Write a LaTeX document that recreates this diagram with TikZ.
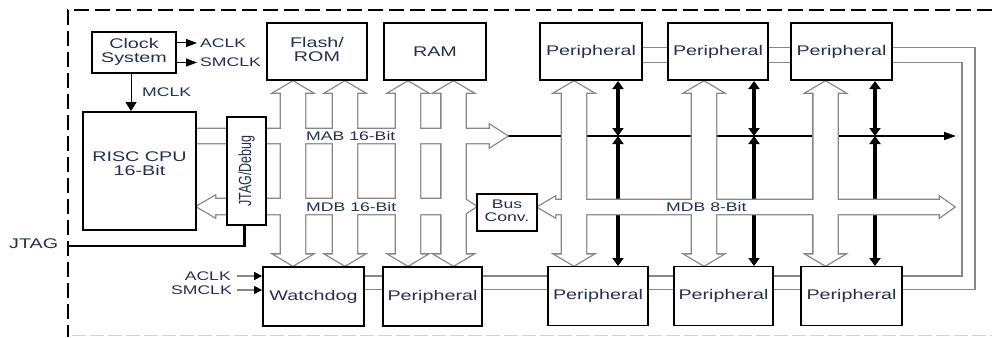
\documentclass[tikz,border=0pt]{standalone}
\usepackage{fontspec}
\setmainfont{Liberation Sans}
\usepackage{graphicx}
\usetikzlibrary{arrows.meta}
\definecolor{txt}{RGB}{38,48,80}
\definecolor{gl}{RGB}{135,135,135}
\newcommand{\st}[1]{\scalebox{1.41}[1]{#1}}
\newcommand{\stt}[3]{\scalebox{1.41}[1]{\begin{tabular}{@{}c@{}}#1\\[#3]#2\end{tabular}}}
\begin{document}
\begin{tikzpicture}[x=1pt,y=-1pt,
  box/.style={draw=black,line width=1.8pt,fill=white,inner sep=0pt,text=txt,font=\fontsize{14}{15}\selectfont},
  lab/.style={text=txt,inner sep=0pt,font=\fontsize{12.5}{14}\selectfont},
  gline/.style={draw=gl,line width=1.2pt},
  holo/.style={draw=gl,line width=2.6pt},
  holf/.style={fill=white},
  tk/.style={line width=3.2pt,arrows={Triangle[length=8pt,width=11pt]-Triangle[length=8pt,width=11pt]}},
  ]
\useasboundingbox (0,0) rectangle (992,337);
\fill[white] (0,0) rectangle (992,337);
% border
\draw[black,line width=2.2pt,dash pattern=on 15pt off 6pt] (992,10) -- (68,10) -- (68,337);
\draw[gray!35,line width=1.2pt,dash pattern=on 14pt off 4pt] (72,335.5) -- (992,335.5);

\coordinate (L1) at (0,47.5);
\coordinate (L2) at (0,62.5);
\coordinate (L3) at (0,276);
\coordinate (L4) at (0,289.5);

% MAB thin line
\coordinate (mabtip) at (507,136);
\coordinate (mabend) at (956,136);
\draw[line width=1.4pt,-{Triangle[length=12pt,width=8pt]}] (mabtip) -- (mabend);

% thick black double arrows
\coordinate (k1) at (618,136);
\coordinate (k2) at (754,136);
\coordinate (k3) at (875,136);
\foreach \k in {k1,k2,k3}{
  \draw[tk] (\k |- 0,81) -- (\k);
  \draw[tk] (\k) -- (\k |- 0,266);
}

% hollow buses: outlines
\foreach \c in {293,345,408,453.5,574,704,825.5}
  \draw[holo] (\c,81.5) -- ({\c+18.5},92.5) -- ({\c+12},92.5) -- ({\c+12},254.5) -- ({\c+18.5},254.5) -- (\c,265.5) -- ({\c-18.5},254.5) -- ({\c-12},254.5) -- ({\c-12},92.5) -- ({\c-18.5},92.5) -- cycle;
\draw[holo] (196,129) -- (490,129) -- (490,125) -- (507,136) -- (490,147) -- (490,143) -- (196,143) -- cycle;
\draw[holo] (197,206.5) -- (215,196) -- (215,199) -- (460,199) -- (460,196) -- (476,206.5) -- (460,217) -- (460,214) -- (215,214) -- (215,217) -- cycle;
\draw[holo] (538,207) -- (555,197) -- (555,200) -- (940,200) -- (940,197) -- (954,207) -- (940,217) -- (940,214) -- (555,214) -- (555,217) -- cycle;
% fills
\foreach \c in {293,345,408,453.5,574,704,825.5}
  \fill[holf] (\c,81.5) -- ({\c+18.5},92.5) -- ({\c+12},92.5) -- ({\c+12},254.5) -- ({\c+18.5},254.5) -- (\c,265.5) -- ({\c-18.5},254.5) -- ({\c-12},254.5) -- ({\c-12},92.5) -- ({\c-18.5},92.5) -- cycle;
\fill[holf] (196,129) -- (490,129) -- (490,125) -- (507,136) -- (490,147) -- (490,143) -- (196,143) -- cycle;
\fill[holf] (197,206.5) -- (215,196) -- (215,199) -- (460,199) -- (460,196) -- (476,206.5) -- (460,217) -- (460,214) -- (215,214) -- (215,217) -- cycle;
\fill[holf] (538,207) -- (555,197) -- (555,200) -- (940,200) -- (940,197) -- (954,207) -- (940,217) -- (940,214) -- (555,214) -- (555,217) -- cycle;

% bus labels
\node[lab,anchor=west] (mab) at (306,136) {\st{MAB 16-Bit}};
\node[lab,anchor=west] (mdb16) at (306,207) {\st{MDB 16-Bit}};
\node[lab,anchor=west] (mdb8) at (666,207) {\st{MDB 8-Bit}};

% boxes
\node[box,minimum width=84pt,minimum height=41pt] (clk) at (134,52.5) {\stt{Clock}{System}{-1pt}};
\node[box,minimum width=113pt,minimum height=118pt] (cpu) at (139.5,171) {};
\node[text=txt,inner sep=0pt,font=\fontsize{14}{15}\selectfont] (cputxt) at (139.5,165) {\stt{RISC CPU}{16-Bit}{-1pt}};
\node[box,minimum width=39pt,minimum height=108pt,font=\fontsize{12.5}{14}\selectfont] (jtag) at (246.5,171) {\st{\rotatebox{90}{JTAG/Debug}}};
\node[box,minimum width=100pt,minimum height=57pt] (flash) at (317,51.5) {\stt{Flash/}{ROM}{-1pt}};
\node[box,minimum width=102pt,minimum height=57pt] (ram) at (435,51.5) {\st{RAM}};
\node[box,minimum width=102pt,minimum height=57pt] (tp1) at (591,51.5) {\st{Peripheral}};
\node[box,minimum width=100pt,minimum height=57pt] (tp2) at (718,51.5) {\st{Peripheral}};
\node[box,minimum width=101pt,minimum height=57pt] (tp3) at (841.5,51.5) {\st{Peripheral}};
\node[box,minimum width=60pt,minimum height=37pt,font=\fontsize{12.5}{13}\selectfont] (bc) at (507,212.5) {\stt{Bus}{Conv.}{0pt}};
\node[box,minimum width=101pt,minimum height=59pt] (wd) at (313.5,296.5) {\st{Watchdog}};
\node[box,minimum width=99pt,minimum height=59pt] (bp1) at (432.5,296.5) {\st{Peripheral}};
\node[box,minimum width=100pt,minimum height=59pt] (bp2) at (598,296) {\st{Peripheral}};
\node[box,minimum width=99pt,minimum height=59pt] (bp3) at (723.5,296) {\st{Peripheral}};
\node[box,minimum width=101pt,minimum height=59pt] (bp4) at (851.5,296) {\st{Peripheral}};

% gray peripheral links
\foreach \l in {L1,L2}{
  \draw[gline] (tp1.east |- \l) -- (tp2.west |- \l);
  \draw[gline] (tp2.east |- \l) -- (tp3.west |- \l);
}
\foreach \l in {L3,L4}{
  \draw[gline] (wd.east |- \l) -- (bp1.west |- \l);
  \draw[gline] (bp1.east |- \l) -- (bp2.west |- \l);
  \draw[gline] (bp2.east |- \l) -- (bp3.west |- \l);
  \draw[gline] (bp3.east |- \l) -- (bp4.west |- \l);
}
\coordinate (r1) at (975,0);
\coordinate (r2) at (962,0);
\draw[gline] (tp3.east |- L1) -- (r1 |- L1) -- (r1 |- L4) -- (bp4.east |- L4);
\draw[gline] (tp3.east |- L2) -- (r2 |- L2) -- (r2 |- L3) -- (bp4.east |- L3);

% clock labels and arrows
\node[lab,anchor=west] (aclk1) at (200,43) {\st{ACLK}};
\node[lab,anchor=west] (smclk1) at (200,62.5) {\st{SMCLK}};
\draw[line width=1pt,-{Triangle[length=11pt,width=8pt]}] (clk.east |- aclk1) -- ([xshift=-3pt]aclk1.west);
\draw[line width=1pt,-{Triangle[length=11pt,width=8pt]}] (clk.east |- smclk1) -- ([xshift=-3pt]smclk1.west);
\node[lab,anchor=west] (mclk) at (142,92) {\st{MCLK}};
\coordinate (mx) at (131,0);
\draw[line width=1pt,-{Triangle[length=9pt,width=11pt]}] (clk.south -| mx) -- (cpu.north -| mx);

% watchdog clocks
\node[lab,anchor=east] (aclk2) at (231,276) {\st{ACLK}};
\node[lab,anchor=east] (smclk2) at (232,290) {\st{SMCLK}};
\draw[gline,arrows={-Triangle[length=8pt,width=8pt,color=black]}] ([xshift=6pt]aclk2.east) -- (wd.west |- aclk2);
\draw[gline,arrows={-Triangle[length=8pt,width=8pt,color=black]}] ([xshift=5pt]smclk2.east) -- (wd.west |- smclk2);

% JTAG
\node[text=txt,inner sep=0pt,font=\fontsize{14}{15}\selectfont,anchor=west] (jtaglab) at (9,244) {\st{JTAG}};
\coordinate (jb) at (244,246);
\coordinate (jl) at (68,246);
\draw[line width=3pt] (jtag.south -| jb) -- ([yshift=-1pt]jb);
\draw[line width=2pt] ([xshift=1.5pt]jb) -- (jl);
\end{tikzpicture}
\end{document}
